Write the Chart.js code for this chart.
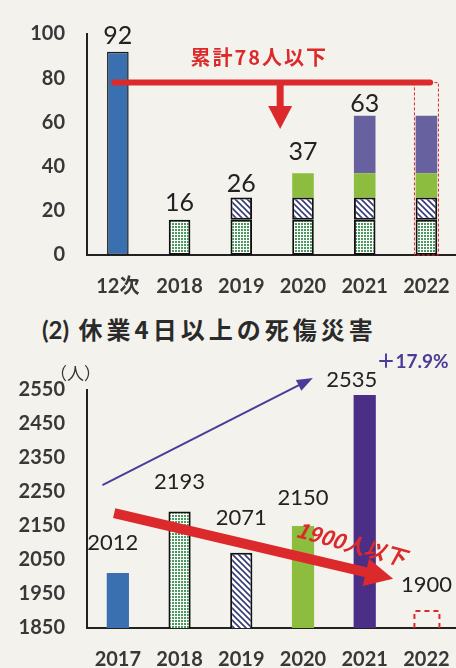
<!DOCTYPE html>
<html>
<head>
<meta charset="utf-8">
<script src="https://cdn.jsdelivr.net/npm/chart.js@4"></script>
<style>
   html, body { margin: 0; padding: 0; background: #f4f2ec; overflow: hidden; width: 456px; height: 668px; }
   .wrap { position: relative; width: 456px; height: 668px; overflow: hidden; }
   #fatalBox { position: absolute; left: 0; top: 0; width: 470px; height: 300px; }
   #injuryBox { position: absolute; left: 0; top: 340px; width: 470px; height: 340px; }
   .title { position: absolute; left: 42px; top: 311px; font: bold 24px 'Noto Sans CJK JP', sans-serif; color: #2a2a2a; letter-spacing: 4px; white-space: nowrap; }
   .title .p { font-family: Lato, sans-serif; letter-spacing: 0; }
</style>
</head>
<body>
<div class="wrap">
   <div id="fatalBox"><canvas id="fatalChart"></canvas></div>
   <div class="title"><span class="p">(2)</span> 休業4日以上の死傷災害</div>
   <div id="injuryBox"><canvas id="injuryChart"></canvas></div>
</div>
<script>
// (1) 死亡災害 - stacked per year
const fatalCats = ['12次', '2018', '2019', '2020', '2021', '2022'];
const fatal12th = [92, null, null, null, null, null];
const fatal2018 = [null, 16, 16, 16, 16, 16];
const fatal2019 = [null, null, 10, 10, 10, 10];
const fatal2020 = [null, null, null, 11, 11, 11];
const fatal2021 = [null, null, null, null, 26, 26];
const fatalLabels = ['92', '16', '26', '37', '63', ''];
const fatalTicks = [0, 20, 40, 60, 80, 100];
const fatalTarget = 78;

// (2) 休業4日以上の死傷災害
const injuryCats = ['2017', '2018', '2019', '2020', '2021', '2022'];
const injuryValues = [2012, 2193, 2071, 2150, 2535, null];
const injuryLabels = ['2012', '2193', '2071', '2150', '2535', '1900'];
const injuryTicks = [1850, 1950, 2050, 2150, 2250, 2350, 2450, 2550];
const injuryTarget = 1900;

const RED = '#dc2a2c';
const BLUE = '#3a6fb0';
const GREEN = '#8cbd3f';
const PURPLE_TOP = '#67619f';
const PURPLE = '#4b2e86';
const TICK = '#383838';
const AXIS = '#222';

// Patterns
function makeDots() {
   const c = document.createElement('canvas');
   c.width = 3; c.height = 3;
   const g = c.getContext('2d');
   g.fillStyle = '#ffffff'; g.fillRect(0, 0, 3, 3);
   g.fillStyle = '#4a9a5e'; g.fillRect(1, 1, 2, 2);
   return g.createPattern(c, 'repeat');
}
function makeHatch() {
   const s = 6;
   const c = document.createElement('canvas');
   c.width = s; c.height = s;
   const g = c.getContext('2d');
   g.fillStyle = '#ffffff'; g.fillRect(0, 0, s, s);
   g.strokeStyle = '#343a78'; g.lineWidth = 1.6;
   g.beginPath();
   g.moveTo(-1, -1); g.lineTo(s + 1, s + 1);
   g.moveTo(-1, s - 1); g.lineTo(1, s + 1);
   g.moveTo(s - 1, -1); g.lineTo(s + 1, 1);
   g.stroke();
   return g.createPattern(c, 'repeat');
}
const DOTS = makeDots();
const HATCH = makeHatch();

function fixTicks(values) {
   return function (scale) { scale.ticks = values.map(v => ({ value: v })); };
}

function arrowHead(ctx, x1, y1, x2, y2, len, half) {
   const a = Math.atan2(y2 - y1, x2 - x1);
   ctx.beginPath();
   ctx.moveTo(x2, y2);
   ctx.lineTo(x2 - len * Math.cos(a) + half * Math.sin(a), y2 - len * Math.sin(a) - half * Math.cos(a));
   ctx.lineTo(x2 - len * Math.cos(a) - half * Math.sin(a), y2 - len * Math.sin(a) + half * Math.cos(a));
   ctx.closePath();
   ctx.fill();
}

// value labels above the stacked totals
const topLabels = {
   id: 'topLabels',
   afterDatasetsDraw(chart, args, opts) {
      const ctx = chart.ctx;
      const x = chart.scales.x, y = chart.scales.y;
      ctx.save();
      ctx.font = opts.font;
      ctx.fillStyle = '#222';
      ctx.textAlign = 'center';
      ctx.textBaseline = 'middle';
      opts.labels.forEach((t, i) => {
         if (!t) return;
         const v = opts.totals[i];
         const off = opts.offsets[i] || [0, 16];
         ctx.fillText(t, x.getPixelForValue(i) + off[0], y.getPixelForValue(v) - off[1]);
      });
      ctx.restore();
   }
};

const fatalTotals = fatalCats.map((c, i) =>
   [fatal12th, fatal2018, fatal2019, fatal2020, fatal2021].reduce((s, a) => s + (a[i] || 0), 0));

// red "累計78人以下" arrow and target box
const fatalNotes = {
   id: 'fatalNotes',
   afterDatasetsDraw(chart) {
      const ctx = chart.ctx;
      const x = chart.scales.x, y = chart.scales.y;
      const yT = y.getPixelForValue(fatalTarget);
      ctx.save();
      // target dashed box on 2022
      const bx = x.getPixelForValue(5);
      ctx.strokeStyle = RED; ctx.lineWidth = 1; ctx.setLineDash([3, 2]);
      ctx.strokeRect(bx - 12, yT, 24, y.getPixelForValue(0) - yT);
      ctx.setLineDash([]);
      // horizontal bar
      ctx.strokeStyle = RED; ctx.lineWidth = 6; ctx.lineCap = 'round';
      ctx.beginPath();
      ctx.moveTo(x.getPixelForValue(-0.06), yT);
      ctx.lineTo(x.getPixelForValue(5.06), yT);
      ctx.stroke();
      // down arrow
      const ax = x.getPixelForValue(2.63);
      const tip = y.getPixelForValue(57);
      ctx.lineCap = 'butt'; ctx.lineWidth = 7;
      ctx.beginPath(); ctx.moveTo(ax, yT); ctx.lineTo(ax, tip - 20); ctx.stroke();
      ctx.fillStyle = RED;
      ctx.beginPath();
      ctx.moveTo(ax - 12, tip - 23); ctx.lineTo(ax + 12, tip - 23); ctx.lineTo(ax, tip);
      ctx.closePath(); ctx.fill();
      // label
      ctx.font = "bold 20px 'Noto Sans CJK JP', sans-serif";
      ctx.letterSpacing = '2px';
      ctx.textAlign = 'center'; ctx.textBaseline = 'middle';
      ctx.fillText('累計78人以下', x.getPixelForValue(2.29), y.getPixelForValue(89.5));
      ctx.restore();
   }
};

new Chart(document.getElementById('fatalChart'), {
   type: 'bar',
   data: {
      labels: fatalCats,
      datasets: [
         { data: fatal12th, backgroundColor: BLUE, borderColor: '#1a1a1a', borderWidth: 1.5 },
         { data: fatal2018, backgroundColor: DOTS, borderColor: '#111', borderWidth: 2 },
         { data: fatal2019, backgroundColor: HATCH, borderColor: '#111', borderWidth: 2 },
         { data: fatal2020, backgroundColor: GREEN, borderWidth: 0 },
         { data: fatal2021, backgroundColor: PURPLE_TOP, borderWidth: 0 }
      ]
   },
   options: {
      responsive: true,
      maintainAspectRatio: false,
      animation: false,
      layout: { padding: { top: 20, right: 4.5, left: 0, bottom: 0 } },
      datasets: { bar: { barPercentage: 0.35, categoryPercentage: 1, borderSkipped: false } },
      plugins: {
         legend: { display: false },
         tooltip: { enabled: false },
         topLabels: {
            font: "25px Lato, sans-serif",
            labels: fatalLabels,
            totals: fatalTotals,
            offsets: [[0, 16], [0, 17], [0, 14], [0, 21], [0, 12]]
         }
      },
      scales: {
         x: {
            stacked: true,
            grid: { display: false, drawTicks: false },
            border: { display: true, color: AXIS, width: 2 },
            ticks: { color: TICK, padding: 20, font: { family: "Lato, 'Noto Sans CJK JP'", size: 20, weight: 'bold' } },
            afterFit: s => { s.height = 45; }
         },
         y: {
            stacked: true,
            min: 0, max: 100,
            grid: { display: false, drawTicks: false },
            border: { display: true, color: AXIS, width: 2 },
            ticks: { color: TICK, padding: 22, font: { family: 'Lato', size: 20, weight: 'bold' }, callback: v => String(v) },
            afterBuildTicks: fixTicks(fatalTicks),
            afterFit: s => { s.width = 87; }
         }
      }
   },
   plugins: [topLabels, fatalNotes]
});

// injuries chart annotations
const injuryNotes = {
   id: 'injuryNotes',
   afterDatasetsDraw(chart) {
      const ctx = chart.ctx;
      const x = chart.scales.x, y = chart.scales.y;
      ctx.save();
      // target dashed box on 2022
      const bx = x.getPixelForValue(5);
      const yT = y.getPixelForValue(injuryTarget), yB = y.getPixelForValue(injuryTicks[0]);
      ctx.strokeStyle = RED; ctx.lineWidth = 2; ctx.setLineDash([5, 4]);
      ctx.beginPath();
      ctx.moveTo(bx - 12, yB); ctx.lineTo(bx - 12, yT); ctx.lineTo(bx + 13, yT); ctx.lineTo(bx + 13, yB);
      ctx.stroke();
      ctx.setLineDash([]);
      // purple rising arrow
      const p1 = [x.getPixelForValue(-0.25), y.getPixelForValue(2270)];
      const p2 = [x.getPixelForValue(3.16), y.getPixelForValue(2585)];
      ctx.strokeStyle = '#4e3a98'; ctx.fillStyle = '#4e3a98'; ctx.lineWidth = 2;
      ctx.beginPath(); ctx.moveTo(p1[0], p1[1]); ctx.lineTo(p2[0] - 10, p2[1] + 5); ctx.stroke();
      arrowHead(ctx, p1[0], p1[1], p2[0], p2[1], 16, 6);
      ctx.font = "bold 19px Lato, 'Noto Sans CJK JP', sans-serif";
      ctx.textAlign = 'left'; ctx.textBaseline = 'middle';
      ctx.fillText('＋17.9%', x.getPixelForValue(4.19), y.getPixelForValue(2632));
      // red falling arrow
      const r1 = [x.getPixelForValue(-0.06), y.getPixelForValue(2188)];
      const r2 = [x.getPixelForValue(4.46), y.getPixelForValue(1995)];
      ctx.strokeStyle = RED; ctx.fillStyle = RED; ctx.lineWidth = 10;
      const a = Math.atan2(r2[1] - r1[1], r2[0] - r1[0]);
      ctx.beginPath(); ctx.moveTo(r1[0], r1[1]);
      ctx.lineTo(r2[0] - 24 * Math.cos(a), r2[1] - 24 * Math.sin(a)); ctx.stroke();
      arrowHead(ctx, r1[0], r1[1], r2[0], r2[1], 28, 14);
      // rotated label
      ctx.save();
      ctx.translate(x.getPixelForValue(3.78), y.getPixelForValue(2098));
      ctx.rotate(15 * Math.PI / 180);
      ctx.font = "italic bold 21px 'Noto Sans CJK JP', sans-serif";
      ctx.textAlign = 'center';
      ctx.fillText('1900人以下', 0, 0);
      ctx.restore();
      // unit
      ctx.fillStyle = '#333';
      ctx.font = "17px 'Noto Sans CJK JP', sans-serif";
      ctx.textAlign = 'left';
      ctx.fillText('（人）', 50, y.getPixelForValue(2550) - 16);
      ctx.restore();
   }
};

new Chart(document.getElementById('injuryChart'), {
   type: 'bar',
   data: {
      labels: injuryCats,
      datasets: [{
         data: injuryValues,
         backgroundColor: [BLUE, DOTS, HATCH, GREEN, PURPLE, 'transparent'],
         borderColor: '#111',
         borderWidth: [0, 2, 2, 0, 0, 0],
         borderSkipped: false,
         barPercentage: 0.36,
         categoryPercentage: 1
      }]
   },
   options: {
      responsive: true,
      maintainAspectRatio: false,
      animation: false,
      layout: { padding: { top: 50, right: 4.5, left: 0, bottom: 0 } },
      plugins: {
         legend: { display: false },
         tooltip: { enabled: false },
         topLabels: {
            font: "22px Lato, sans-serif",
            labels: injuryLabels,
            totals: injuryValues.map((v, i) => v === null ? injuryTarget : v),
            offsets: [[-5, 30], [0, 29], [0, 35], [0, 28], [-13, 15], [0, 26]]
         }
      },
      scales: {
         x: {
            grid: { display: false, drawTicks: false },
            border: { display: true, color: AXIS, width: 2 },
            ticks: { color: TICK, padding: 20, font: { family: 'Lato', size: 20, weight: 'bold' } },
            afterFit: s => { s.height = 52; }
         },
         y: {
            min: 1850, max: 2550,
            grid: { display: false, drawTicks: false },
            border: { display: true, color: AXIS, width: 2 },
            ticks: { color: TICK, padding: 22, font: { family: 'Lato', size: 20, weight: 'bold' }, callback: v => String(v) },
            afterBuildTicks: fixTicks(injuryTicks),
            afterFit: s => { s.width = 87; }
         }
      }
   },
   plugins: [topLabels, injuryNotes]
});
</script>
</body>
</html>
